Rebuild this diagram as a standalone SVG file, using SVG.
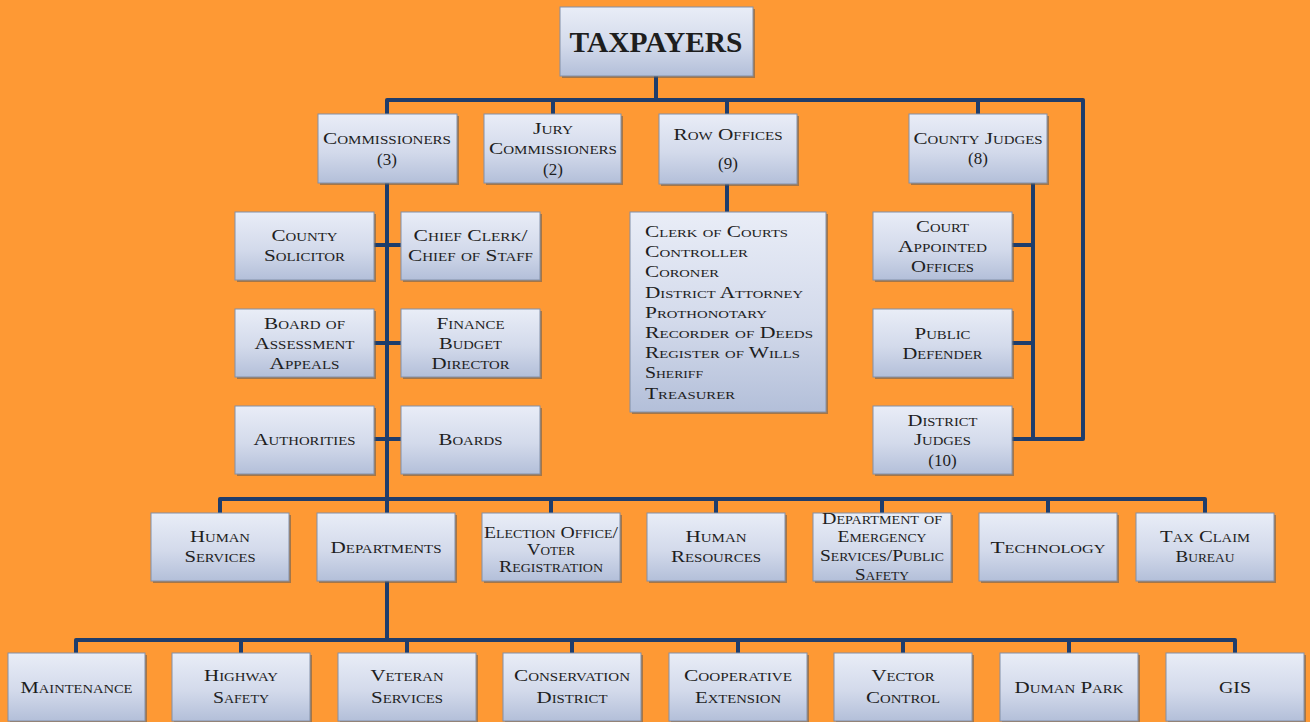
<svg xmlns="http://www.w3.org/2000/svg" width="1310" height="722" viewBox="0 0 1310 722">
<defs>
<linearGradient id="bg" x1="0" y1="0" x2="0" y2="1">
<stop offset="0" stop-color="#E9EDF7"/>
<stop offset="0.55" stop-color="#D3DAEB"/>
<stop offset="1" stop-color="#B3BFD9"/>
</linearGradient>
<style>
.sh{fill:#5a5a5a;opacity:.55}
.box{fill:url(#bg);stroke:#8290A8;stroke-width:1}
text{font-family:'Liberation Serif','Times New Roman','DejaVu Serif',serif;fill:#1e1e1e}
.t{font-size:17px;font-variant:small-caps;text-anchor:middle}
.l{font-size:16px;font-variant:small-caps}
.c{fill:none;stroke:#1F3D6B;stroke-width:4;stroke-linejoin:round;stroke-linecap:butt}
</style>
</defs>
<rect width="1310" height="722" fill="#FE9934"/>
<g id="connectors">
<path class="c" d="M656 76V100"/>
<path class="c" d="M387 114V100H1083V439H1012"/>
<path class="c" d="M553 100V114M727 100V114M978 100V114"/>
<path class="c" d="M387 183V513"/>
<path class="c" d="M374 245H401M374 343H401M374 439H401"/>
<path class="c" d="M727 183V212"/>
<path class="c" d="M1033 183V439M1012 245H1033M1012 343H1033"/>
<path class="c" d="M220 513V499H1205V513"/>
<path class="c" d="M551 499V513M716 499V513M882 499V513M1048 499V513"/>
<path class="c" d="M387 581V640"/>
<path class="c" d="M76 653V640H1235V653"/>
<path class="c" d="M241 640V653M407 640V653M572 640V653M738 640V653M903 640V653M1069 640V653"/>
</g>
<g id="taxpayers"><rect class="sh" x="562" y="9" width="193" height="69"/><rect class="box" x="560" y="7" width="193" height="69"/><text x="656" y="52" font-size="30" font-weight="bold" fill="#111" text-anchor="middle" textLength="173" lengthAdjust="spacingAndGlyphs">TAXPAYERS</text></g>
<g id="commissioners"><rect class="sh" x="320" y="116" width="139" height="69"/><rect class="box" x="318" y="114" width="139" height="69"/><text class="t" x="387" y="143.5" textLength="128" lengthAdjust="spacingAndGlyphs">Commissioners</text><text class="t" x="387" y="165">(3)</text></g>
<g id="jury"><rect class="sh" x="486" y="116" width="137" height="69"/><rect class="box" x="484" y="114" width="137" height="69"/><text class="t" x="553" y="133.5" textLength="40" lengthAdjust="spacingAndGlyphs">Jury</text><text class="t" x="553" y="153.5" textLength="128" lengthAdjust="spacingAndGlyphs">Commissioners</text><text class="t" x="553" y="175">(2)</text></g>
<g id="row-offices"><rect class="sh" x="661" y="116" width="138" height="70"/><rect class="box" x="659" y="114" width="138" height="70"/><text class="t" x="728" y="139.5" textLength="109" lengthAdjust="spacingAndGlyphs">Row Offices</text><text class="t" x="728" y="169">(9)</text></g>
<g id="county-judges"><rect class="sh" x="911" y="116" width="138" height="69"/><rect class="box" x="909" y="114" width="138" height="69"/><text class="t" x="978" y="143.5" textLength="129" lengthAdjust="spacingAndGlyphs">County Judges</text><text class="t" x="978" y="164">(8)</text></g>
<g id="county-solicitor"><rect class="sh" x="237" y="214" width="139" height="68"/><rect class="box" x="235" y="212" width="139" height="68"/><text class="t" x="304.5" y="240.5" textLength="66" lengthAdjust="spacingAndGlyphs">County</text><text class="t" x="304.5" y="260.5" textLength="81" lengthAdjust="spacingAndGlyphs">Solicitor</text></g>
<g id="chief-clerk"><rect class="sh" x="403" y="214" width="139" height="68"/><rect class="box" x="401" y="212" width="139" height="68"/><text class="t" x="470.5" y="240.5" textLength="114" lengthAdjust="spacingAndGlyphs">Chief Clerk/</text><text class="t" x="470.5" y="260.5" textLength="125" lengthAdjust="spacingAndGlyphs">Chief of Staff</text></g>
<g id="board-assessment"><rect class="sh" x="237" y="311" width="139" height="68"/><rect class="box" x="235" y="309" width="139" height="68"/><text class="t" x="304.5" y="328.5" textLength="81" lengthAdjust="spacingAndGlyphs">Board of</text><text class="t" x="304.5" y="349" textLength="100" lengthAdjust="spacingAndGlyphs">Assessment</text><text class="t" x="304.5" y="368.5" textLength="70" lengthAdjust="spacingAndGlyphs">Appeals</text></g>
<g id="finance"><rect class="sh" x="403" y="311" width="139" height="68"/><rect class="box" x="401" y="309" width="139" height="68"/><text class="t" x="470.5" y="328.5" textLength="68" lengthAdjust="spacingAndGlyphs">Finance</text><text class="t" x="470.5" y="349" textLength="63" lengthAdjust="spacingAndGlyphs">Budget</text><text class="t" x="470.5" y="368.5" textLength="78" lengthAdjust="spacingAndGlyphs">Director</text></g>
<g id="authorities"><rect class="sh" x="237" y="408" width="139" height="68"/><rect class="box" x="235" y="406" width="139" height="68"/><text class="t" x="304.5" y="444.5" textLength="102" lengthAdjust="spacingAndGlyphs">Authorities</text></g>
<g id="boards"><rect class="sh" x="403" y="408" width="139" height="68"/><rect class="box" x="401" y="406" width="139" height="68"/><text class="t" x="470.5" y="444.5" textLength="64" lengthAdjust="spacingAndGlyphs">Boards</text></g>
<g id="row-offices-list"><rect class="sh" x="632" y="214" width="196" height="200"/><rect class="box" x="630" y="212" width="196" height="200"/>
<text class="l" x="645" y="237" textLength="143" lengthAdjust="spacingAndGlyphs">Clerk of Courts</text>
<text class="l" x="645" y="257.2" textLength="103" lengthAdjust="spacingAndGlyphs">Controller</text>
<text class="l" x="645" y="277.4" textLength="74" lengthAdjust="spacingAndGlyphs">Coroner</text>
<text class="l" x="645" y="297.6" textLength="158" lengthAdjust="spacingAndGlyphs">District Attorney</text>
<text class="l" x="645" y="317.8" textLength="122" lengthAdjust="spacingAndGlyphs">Prothonotary</text>
<text class="l" x="645" y="338" textLength="168" lengthAdjust="spacingAndGlyphs">Recorder of Deeds</text>
<text class="l" x="645" y="358.2" textLength="155" lengthAdjust="spacingAndGlyphs">Register of Wills</text>
<text class="l" x="645" y="378.4" textLength="58" lengthAdjust="spacingAndGlyphs">Sheriff</text>
<text class="l" x="645" y="398.6" textLength="90" lengthAdjust="spacingAndGlyphs">Treasurer</text></g>
<g id="court-appointed"><rect class="sh" x="875" y="214" width="139" height="68"/><rect class="box" x="873" y="212" width="139" height="68"/><text class="t" x="942.5" y="231.5" textLength="53" lengthAdjust="spacingAndGlyphs">Court</text><text class="t" x="942.5" y="251.5" textLength="89" lengthAdjust="spacingAndGlyphs">Appointed</text><text class="t" x="942.5" y="271.5" textLength="63" lengthAdjust="spacingAndGlyphs">Offices</text></g>
<g id="public-defender"><rect class="sh" x="875" y="311" width="139" height="68"/><rect class="box" x="873" y="309" width="139" height="68"/><text class="t" x="942.5" y="338.5" textLength="56" lengthAdjust="spacingAndGlyphs">Public</text><text class="t" x="942.5" y="358.5" textLength="80" lengthAdjust="spacingAndGlyphs">Defender</text></g>
<g id="district-judges"><rect class="sh" x="875" y="408" width="139" height="68"/><rect class="box" x="873" y="406" width="139" height="68"/><text class="t" x="942.5" y="425.5" textLength="70" lengthAdjust="spacingAndGlyphs">District</text><text class="t" x="942.5" y="444.5" textLength="57" lengthAdjust="spacingAndGlyphs">Judges</text><text class="t" x="942.5" y="466">(10)</text></g>
<g id="human-services"><rect class="sh" x="153" y="515" width="138" height="68"/><rect class="box" x="151" y="513" width="138" height="68"/><text class="t" x="220" y="541.5" textLength="60" lengthAdjust="spacingAndGlyphs">Human</text><text class="t" x="220" y="562" textLength="71" lengthAdjust="spacingAndGlyphs">Services</text></g>
<g id="departments"><rect class="sh" x="319" y="515" width="138" height="68"/><rect class="box" x="317" y="513" width="138" height="68"/><text class="t" x="386" y="552.5" textLength="111" lengthAdjust="spacingAndGlyphs">Departments</text></g>
<g id="election-office"><rect class="sh" x="484" y="515" width="138" height="68"/><rect class="box" x="482" y="513" width="138" height="68"/><text class="t" x="551" y="538" font-size="16" textLength="134" lengthAdjust="spacingAndGlyphs">Election Office/</text><text class="t" x="551" y="554.5" textLength="48" lengthAdjust="spacingAndGlyphs">Voter</text><text class="t" x="551" y="571.5" textLength="104" lengthAdjust="spacingAndGlyphs">Registration</text></g>
<g id="human-resources"><rect class="sh" x="649" y="515" width="138" height="68"/><rect class="box" x="647" y="513" width="138" height="68"/><text class="t" x="716" y="541.5" textLength="61" lengthAdjust="spacingAndGlyphs">Human</text><text class="t" x="716" y="562" textLength="90" lengthAdjust="spacingAndGlyphs">Resources</text></g>
<g id="emergency-services"><rect class="sh" x="815" y="515" width="138" height="68"/><rect class="box" x="813" y="513" width="138" height="68"/><text class="t" x="882" y="524" textLength="120" lengthAdjust="spacingAndGlyphs">Department of</text><text class="t" x="882" y="542" textLength="89" lengthAdjust="spacingAndGlyphs">Emergency</text><text class="t" x="882" y="561" textLength="124" lengthAdjust="spacingAndGlyphs">Services/Public</text><text class="t" x="882" y="580" textLength="54" lengthAdjust="spacingAndGlyphs">Safety</text></g>
<g id="technology"><rect class="sh" x="981" y="515" width="138" height="68"/><rect class="box" x="979" y="513" width="138" height="68"/><text class="t" x="1048" y="552.5" textLength="115" lengthAdjust="spacingAndGlyphs">Technology</text></g>
<g id="tax-claim"><rect class="sh" x="1138" y="515" width="138" height="68"/><rect class="box" x="1136" y="513" width="138" height="68"/><text class="t" x="1205" y="541.5" textLength="90" lengthAdjust="spacingAndGlyphs">Tax Claim</text><text class="t" x="1205" y="562" textLength="59" lengthAdjust="spacingAndGlyphs">Bureau</text></g>
<g id="maintenance"><rect class="sh" x="10" y="655" width="137" height="68"/><rect class="box" x="8" y="653" width="137" height="68"/><text class="t" x="76.5" y="693" textLength="112" lengthAdjust="spacingAndGlyphs">Maintenance</text></g>
<g id="highway-safety"><rect class="sh" x="174" y="655" width="138" height="68"/><rect class="box" x="172" y="653" width="138" height="68"/><text class="t" x="241" y="681" textLength="74" lengthAdjust="spacingAndGlyphs">Highway</text><text class="t" x="241" y="702.5" textLength="56" lengthAdjust="spacingAndGlyphs">Safety</text></g>
<g id="veteran-services"><rect class="sh" x="340" y="655" width="138" height="68"/><rect class="box" x="338" y="653" width="138" height="68"/><text class="t" x="407" y="681" textLength="73" lengthAdjust="spacingAndGlyphs">Veteran</text><text class="t" x="407" y="702.5" textLength="72" lengthAdjust="spacingAndGlyphs">Services</text></g>
<g id="conservation-district"><rect class="sh" x="505" y="655" width="138" height="68"/><rect class="box" x="503" y="653" width="138" height="68"/><text class="t" x="572" y="681" textLength="116" lengthAdjust="spacingAndGlyphs">Conservation</text><text class="t" x="572" y="702.5" textLength="71" lengthAdjust="spacingAndGlyphs">District</text></g>
<g id="cooperative-extension"><rect class="sh" x="671" y="655" width="138" height="68"/><rect class="box" x="669" y="653" width="138" height="68"/><text class="t" x="738" y="681" textLength="108" lengthAdjust="spacingAndGlyphs">Cooperative</text><text class="t" x="738" y="702.5" textLength="86" lengthAdjust="spacingAndGlyphs">Extension</text></g>
<g id="vector-control"><rect class="sh" x="836" y="655" width="138" height="68"/><rect class="box" x="834" y="653" width="138" height="68"/><text class="t" x="903" y="681" textLength="63" lengthAdjust="spacingAndGlyphs">Vector</text><text class="t" x="903" y="702.5" textLength="74" lengthAdjust="spacingAndGlyphs">Control</text></g>
<g id="duman-park"><rect class="sh" x="1002" y="655" width="138" height="68"/><rect class="box" x="1000" y="653" width="138" height="68"/><text class="t" x="1069" y="693" textLength="109" lengthAdjust="spacingAndGlyphs">Duman Park</text></g>
<g id="gis"><rect class="sh" x="1168" y="655" width="138" height="68"/><rect class="box" x="1166" y="653" width="138" height="68"/><text class="t" x="1235" y="693" textLength="32" lengthAdjust="spacingAndGlyphs">GIS</text></g>
</svg>
